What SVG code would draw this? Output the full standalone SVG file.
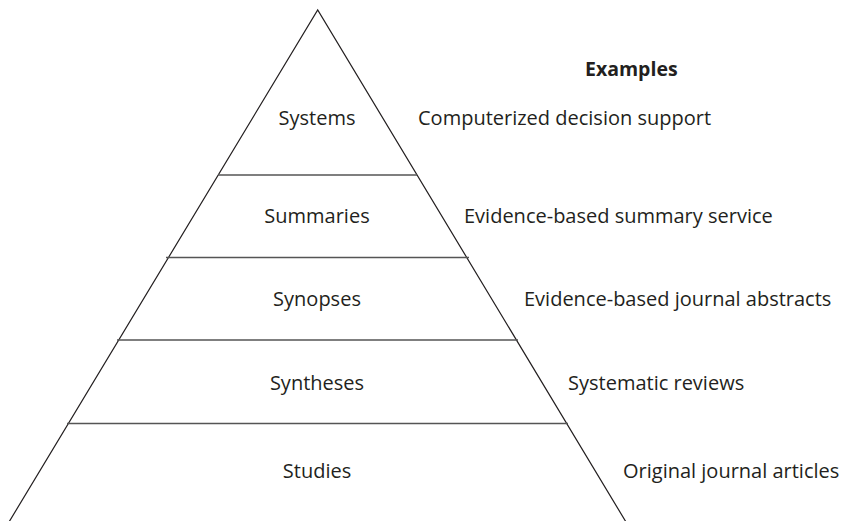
<svg xmlns="http://www.w3.org/2000/svg" width="844" height="521" viewBox="0 0 844 521">
<style>
.t{font-family:"Open Sans","Noto Sans","Liberation Sans",sans-serif;font-size:20px;fill:#231f20}
.c{text-anchor:middle}
.b{font-weight:bold;font-size:19.5px}
.edge{stroke:#231f20;stroke-width:1.2;fill:none}
.tier{stroke:#555;stroke-width:1.5;fill:none}
</style>
<rect width="844" height="521" fill="#fff"/>
<g id="pyramid">
<polyline class="edge" points="9,522 317.7,10 626,522"/>
</g>
<g id="connectors">
<line class="tier" x1="218" y1="175" x2="417" y2="175"/>
<line class="tier" x1="166" y1="257.5" x2="469" y2="257.5"/>
<line class="tier" x1="117" y1="340" x2="518" y2="340"/>
<line class="tier" x1="67" y1="423.5" x2="568" y2="423.5"/>
</g>
<g id="header"><text class="t b" x="585" y="76">Examples</text></g>
<g id="systems"><text class="t c" x="317" y="125">Systems</text><text class="t" x="418" y="125">Computerized decision support</text></g>
<g id="summaries"><text class="t c" x="317" y="223">Summaries</text><text class="t" x="464" y="223">Evidence-based summary service</text></g>
<g id="synopses"><text class="t c" x="317" y="306">Synopses</text><text class="t" x="524" y="306">Evidence-based journal abstracts</text></g>
<g id="syntheses"><text class="t c" x="317" y="390">Syntheses</text><text class="t" x="568" y="390">Systematic reviews</text></g>
<g id="studies"><text class="t c" x="317" y="478">Studies</text><text class="t" x="623" y="478">Original journal articles</text></g>
</svg>
